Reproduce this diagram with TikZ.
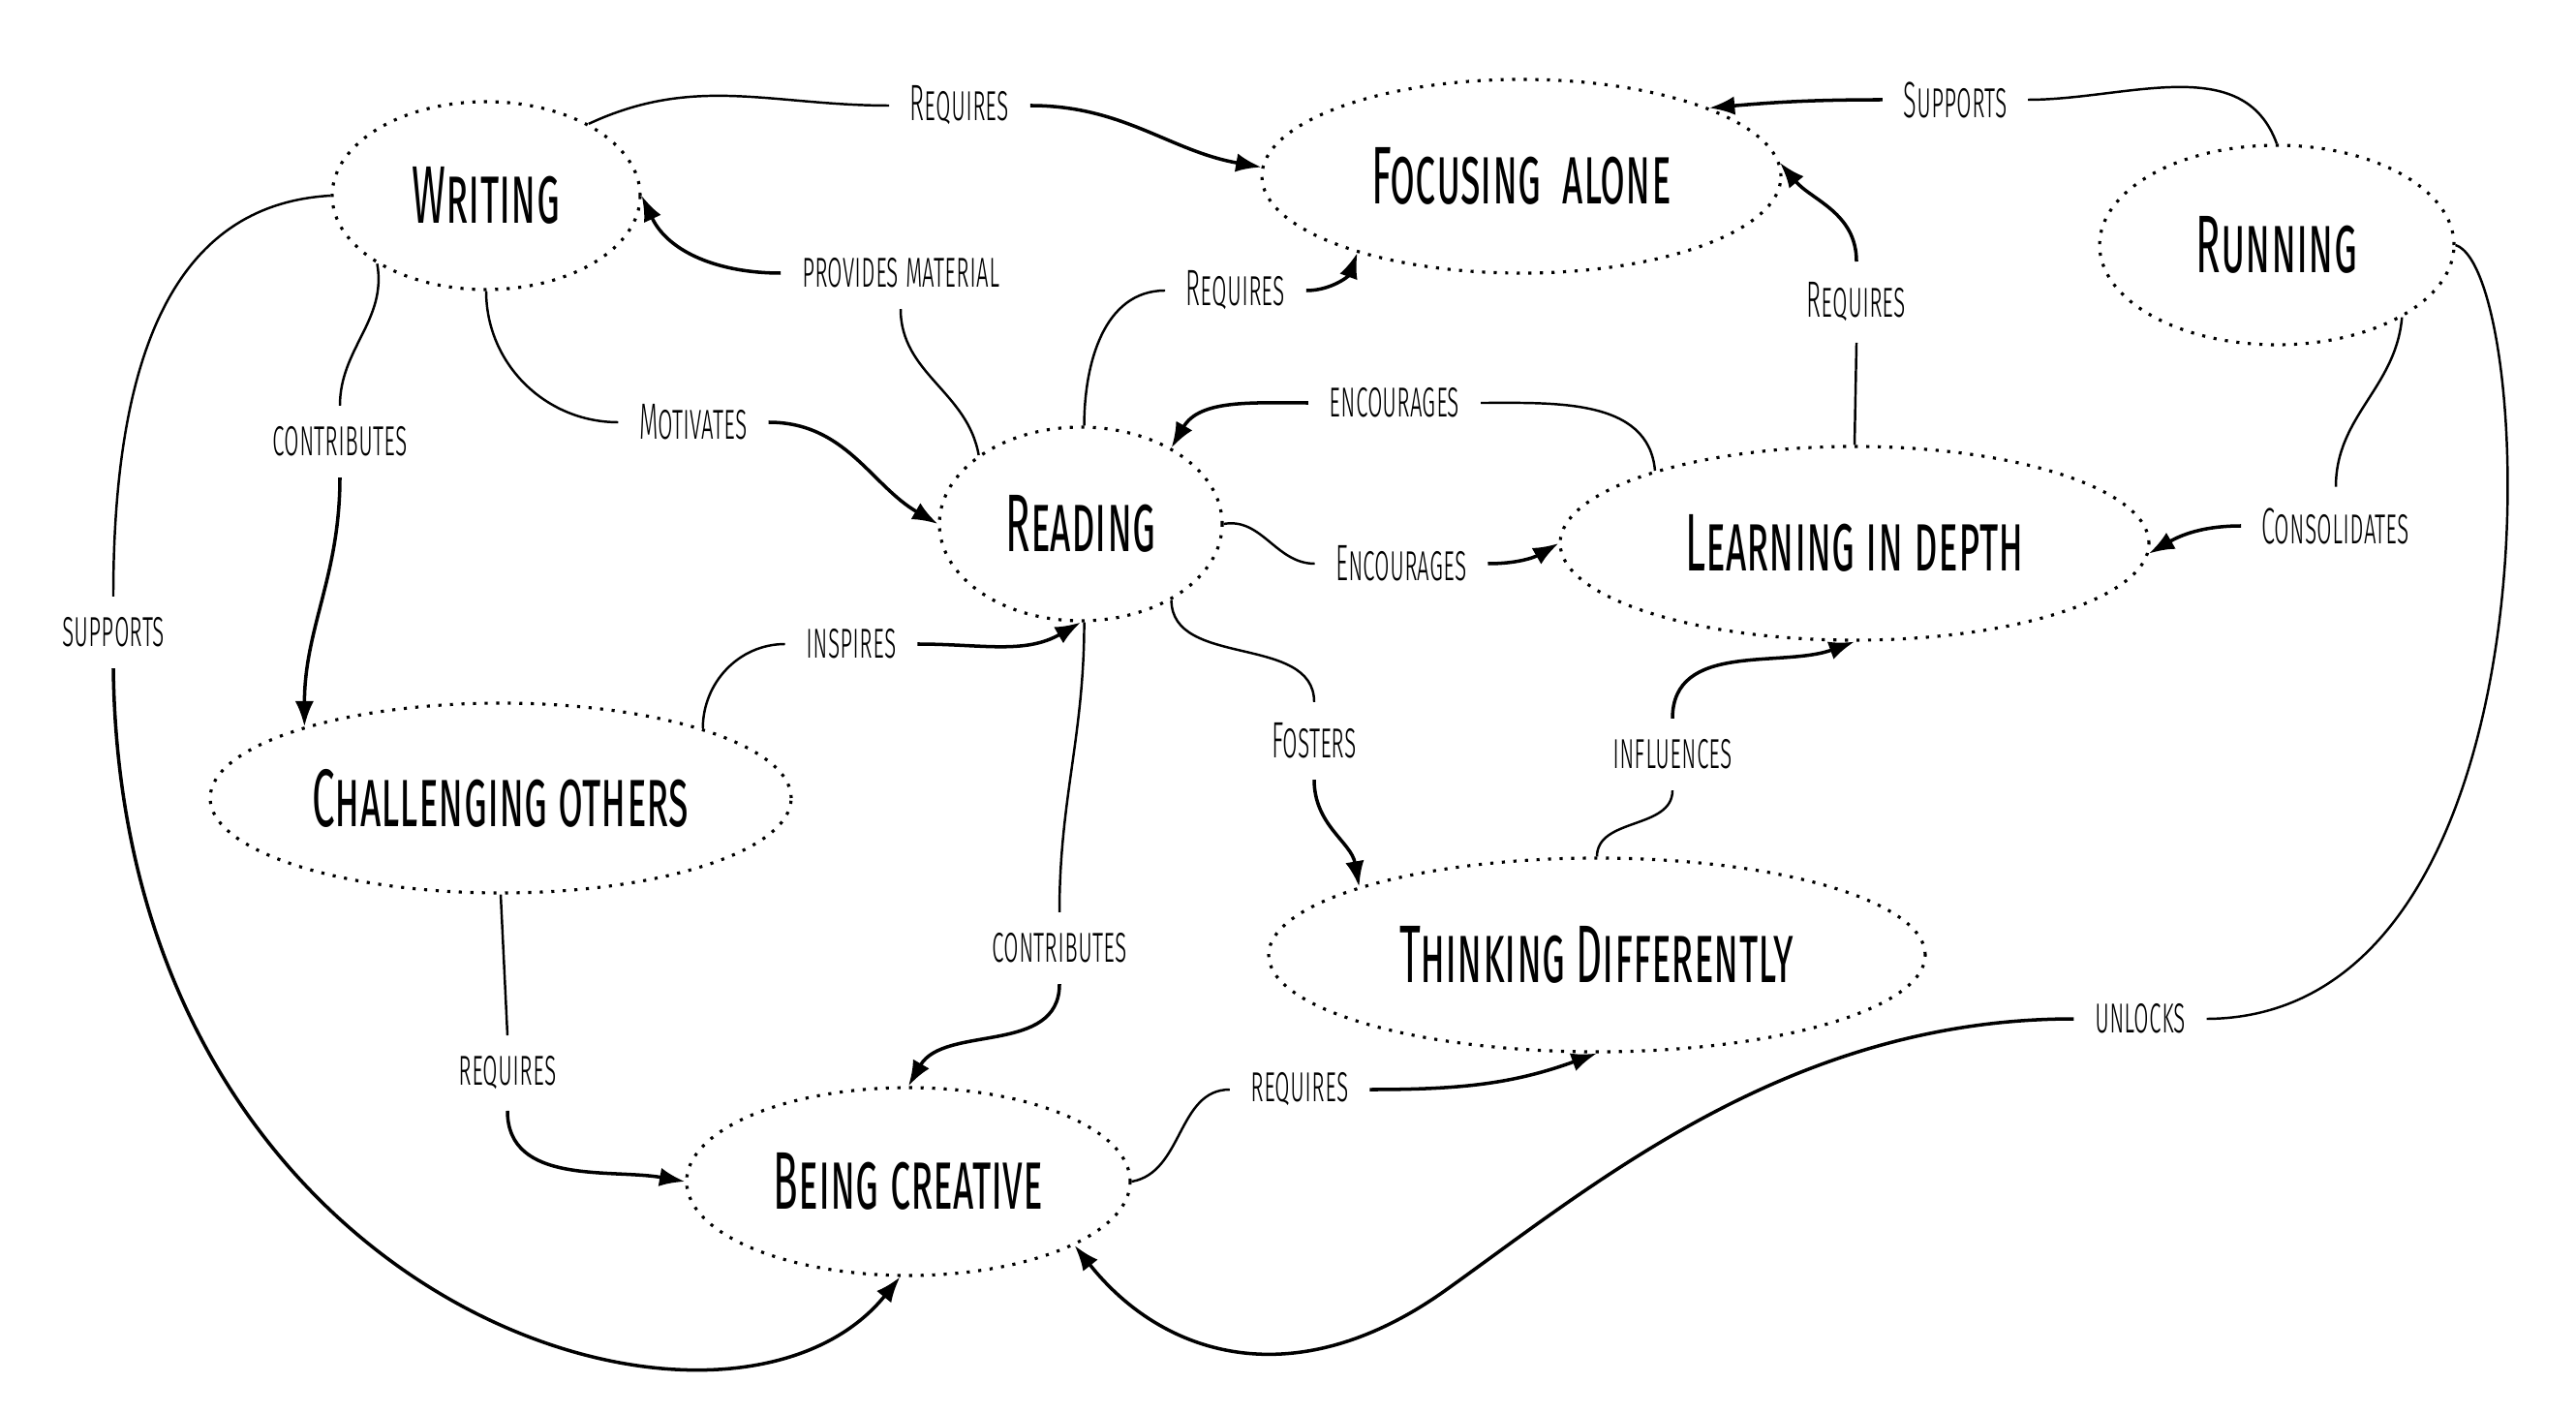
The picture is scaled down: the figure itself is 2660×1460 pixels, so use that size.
\documentclass[tikz,border=0pt]{standalone}
\usepackage{fontspec}
\usetikzlibrary{shapes.geometric,arrows.meta}
\newfontfamily\topicfont[FakeStretch=0.5,Letters=SmallCaps]{Fira Sans}
\newfontfamily\linkfont[FakeStretch=0.48,Letters=SmallCaps]{Fira Sans Light}

\begin{document}
\begin{tikzpicture}[x=0.1mm, y=-0.1mm,
  topic/.style={ellipse, draw, line width=0.9pt, dash pattern=on 0.9pt off 2.5pt, inner sep=0pt, font=\topicfont\fontsize{24}{26}\selectfont},
  link/.style={inner xsep=6pt, inner ysep=6pt, font=\linkfont\fontsize{15}{17}\selectfont},
  tail/.style={line width=0.7pt},
  head/.style={line width=1pt, -{Latex[length=7.5pt,width=5.5pt]}}]
  \useasboundingbox (0,0) rectangle (2660,1460);
  \node[topic, minimum width=3.18cm, minimum height=1.94cm] (writing) at (502,202) {Writing};
  \node[topic, minimum width=5.36cm, minimum height=2cm] (focusing) at (1571,182) {Focusing\ \ alone};
  \node[topic, minimum width=3.66cm, minimum height=2.06cm] (running) at (2351,253) {Running};
  \node[topic, minimum width=2.92cm, minimum height=2cm] (reading) at (1116,541) {Reading};
  \node[topic, minimum width=6.08cm, minimum height=2cm] (learning) at (1915,561) {Learning in depth};
  \node[topic, minimum width=6cm, minimum height=1.96cm] (challenging) at (517,824) {Challenging others};
  \node[topic, minimum width=6.78cm, minimum height=2cm] (thinking) at (1649,986) {Thinking Differently};
  \node[topic, minimum width=4.58cm, minimum height=1.94cm] (creative) at (938,1220) {Being creative};

  \node[link] (reqtop) at (991,109) {Requires};
  \node[link] (suptop) at (2019,103) {Supports};
  \node[link] (provides) at (930,282) {provides material};
  \node[link] (reqread) at (1276,300) {Requires};
  \node[link] (reqlearn) at (1917,312) {Requires};
  \node[link] (contrleft) at (351,456) {contributes};
  \node[link] (motivates) at (716,436) {Motivates};
  \node[link] (enctop) at (1440,416) {encourages};
  \node[link] (encmid) at (1447,582) {Encourages};
  \node[link] (consol) at (2412,543) {Consolidates};
  \node[link] (supleft) at (117,653) {supports};
  \node[link] (inspires) at (879,665) {inspires};
  \node[link] (fosters) at (1357,765) {Fosters};
  \node[link] (influences) at (1727,779) {influences};
  \node[link] (contrlow) at (1094,979) {contributes};
  \node[link] (reqlowl) at (524,1108) {requires};
  \node[link] (reqlowr) at (1342,1125) {requires};
  \node[link] (unlocks) at (2210,1052) {unlocks};

  \draw[tail] (writing.35) to[out=25, in=180] (reqtop.west);
  \draw[head] (reqtop.east) to[out=0, in=170] (focusing.178);
  \draw[tail] (reading.146) to[out=100, in=-90] (provides.south);
  \draw[head] (provides.west) to[out=180, in=-65] (writing.0);
  \draw[tail] (reading.88) to[out=90, in=180] (reqread.west);
  \draw[head] (reqread.east) to[out=0, in=-110] (focusing.205);
  \draw[tail] (learning.90) -- (reqlearn.south);
  \draw[head] (reqlearn.north) to[out=90, in=-50] (focusing.3);
  \draw[tail] (running.90) to[out=110, in=0] (suptop.east);
  \draw[head] (suptop.west) to[out=180, in=5] (focusing.20);
  \draw[tail] (running.-30) to[out=-95, in=90] (consol.north);
  \draw[head] (consol.west) to[out=180, in=30] (learning.-2);
  \draw[tail] (learning.160) to[out=95, in=0] (enctop.east);
  \draw[head] (enctop.west) to[out=180, in=60] (reading.40);
  \draw[tail] (reading.0) to[out=10, in=180] (encmid.west);
  \draw[head] (encmid.east) to[out=0, in=210] (learning.180);
  \draw[tail] (writing.212) to[out=-80, in=90] (contrleft.north);
  \draw[head] (contrleft.south) to[out=-90, in=90] (challenging.160);
  \draw[tail] (writing.270) to[out=-90, in=180] (motivates.west);
  \draw[head] (motivates.east) to[out=0, in=150] (reading.180);
  \draw[tail] (writing.180) .. controls (200,210) and (117,330) .. (supleft.north);
  \draw[head] (supleft.south) .. controls (125,1350) and (750,1540) .. (creative.265);
  \draw[tail] (challenging.19) to[out=90, in=180] (inspires.west);
  \draw[head] (inspires.east) to[out=0, in=210] (reading.270);
  \draw[tail] (reading.-40) to[out=-90, in=90] (fosters.north);
  \draw[head] (fosters.south) to[out=-90, in=100] (thinking.164);
  \draw[tail] (thinking.90) to[out=90, in=-90] (influences.south);
  \draw[head] (influences.north) to[out=90, in=200] (learning.270);
  \draw[tail] (reading.272) to[out=-90, in=90] (contrlow.north);
  \draw[head] (contrlow.south) to[out=-90, in=60] (creative.90);
  \draw[tail] (challenging.270) -- (reqlowl.north);
  \draw[head] (reqlowl.south) to[out=-90, in=170] (creative.180);
  \draw[tail] (creative.0) to[out=10, in=180] (reqlowr.west);
  \draw[head] (reqlowr.east) to[out=0, in=200] (thinking.270);
  \draw[tail] (running.0) .. controls (2620,280) and (2650,1050) .. (unlocks.east);
  \draw[head] (unlocks.west) .. controls (1850,1052) and (1650,1220) .. (1493,1332) .. controls (1336,1444) and (1200,1400) .. (creative.-21);
\end{tikzpicture}
\end{document}
